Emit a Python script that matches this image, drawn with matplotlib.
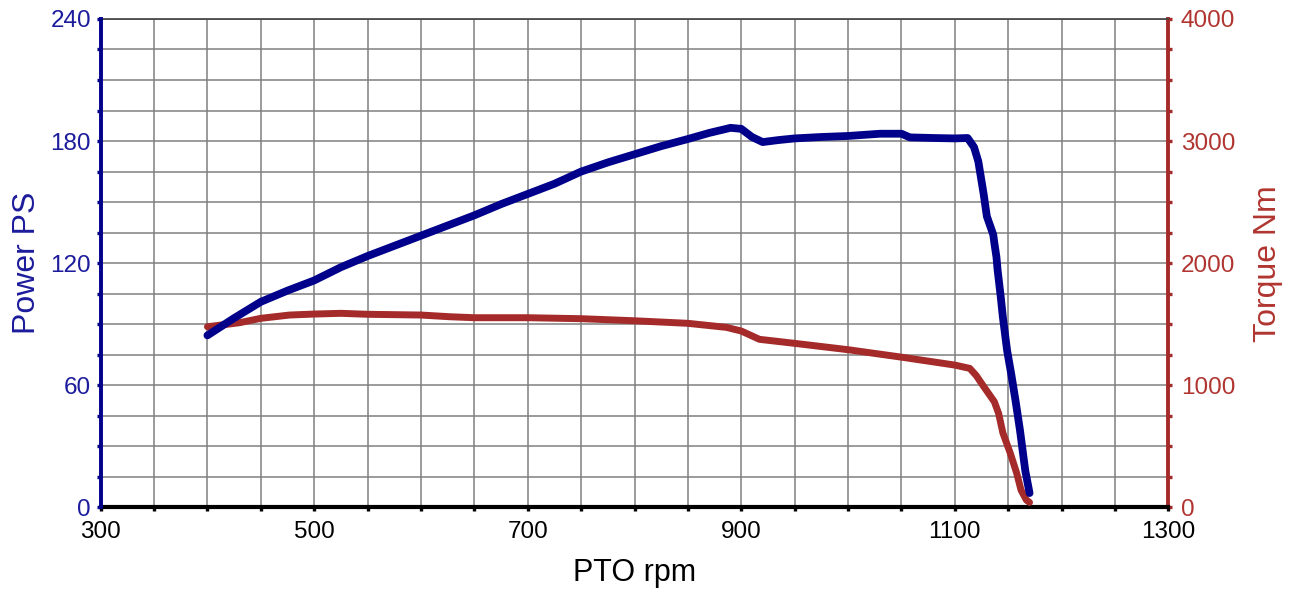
"""PTO dyno run: power and torque against PTO speed."""

import matplotlib.pyplot as plt
from matplotlib.ticker import MultipleLocator

# Power curve
RPM_POWER = [400, 425, 450, 475, 500, 525, 550, 575, 600, 625, 650, 675, 700,
             725, 750, 775, 800, 825, 850, 870, 890, 900, 910, 920, 935, 950,
             975, 1000, 1030, 1050, 1058, 1080, 1100, 1112, 1118, 1122, 1127,
             1130, 1134, 1136, 1137, 1139, 1140, 1143, 1145, 1149, 1153, 1157,
             1161, 1166, 1170]
POWER_PS = [84.5, 93, 101, 106.5, 111.5, 118, 123.5, 128.5, 133.5, 138.5,
            143.5, 149, 154, 159, 165, 169.5, 173.5, 177.5, 181, 184, 186.5,
            186, 182, 179.5, 180.5, 181.3, 182, 182.5, 183.6, 183.6, 181.8,
            181.5, 181.3, 181.5, 177, 170, 154, 143, 137, 134, 130, 123, 117,
            103.5, 93.5, 77, 65, 52, 38, 18, 7]

# Torque curve
RPM_TORQUE = [400, 430, 450, 477, 500, 525, 550, 600, 627, 650, 700, 750, 800,
              850, 886, 900, 917, 950, 1000, 1050, 1100, 1114, 1120, 1127,
              1133, 1137, 1141, 1145, 1152, 1158, 1162, 1167, 1170]
TORQUE_NM = [1479, 1512, 1548, 1575, 1583, 1589, 1581, 1575, 1561, 1553, 1553,
             1545, 1528, 1507, 1474, 1444, 1376, 1343, 1291, 1230, 1165, 1138,
             1080, 990, 915, 865, 770, 610, 442, 278, 142, 60, 40]

X_TICKS = [300, 500, 700, 900, 1100, 1300]

BLUE = "#00008b"
RED = "#a52a2a"
BLUE_TXT = "#1c1c9c"
RED_TXT = "#b03530"

plt.rcParams["font.family"] = ["Liberation Sans", "DejaVu Sans"]

fig = plt.figure(figsize=(12.89, 5.91), dpi=100)
# base axes: torque (right side) plus the grid; power axes on top of it
ax_t = fig.add_axes([0.0781, 0.1416, 0.8283, 0.8263])
ax_p = ax_t.twinx()

ax_t.plot(RPM_TORQUE, TORQUE_NM, color=RED, lw=5.0, solid_capstyle="round",
          solid_joinstyle="round", zorder=3)
ax_p.plot(RPM_POWER, POWER_PS, color=BLUE, lw=5.6, solid_capstyle="round",
          solid_joinstyle="round", zorder=3)

ax_t.set_xlim(300, 1300)
ax_t.set_ylim(0, 4000)
ax_p.set_ylim(0, 240)

ax_t.set_xticks(X_TICKS)
ax_t.xaxis.set_minor_locator(MultipleLocator(50))
ax_t.yaxis.set_major_locator(MultipleLocator(1000))
ax_t.yaxis.set_minor_locator(MultipleLocator(250))
ax_p.yaxis.set_major_locator(MultipleLocator(60))
ax_p.yaxis.set_minor_locator(MultipleLocator(15))

ax_t.yaxis.tick_right()
ax_t.yaxis.set_label_position("right")
ax_p.yaxis.tick_left()
ax_p.yaxis.set_label_position("left")

ax_t.grid(True, which="both", color="#808080", lw=1.1, zorder=0)
ax_t.set_axisbelow(True)

for side in ["left", "right", "top", "bottom"]:
    ax_p.spines[side].set_visible(side == "left")
ax_t.spines["left"].set_visible(False)
ax_p.spines["left"].set_color(BLUE)
ax_p.spines["left"].set_linewidth(2.8)
ax_t.spines["bottom"].set_color("black")
ax_t.spines["bottom"].set_linewidth(3)
ax_t.spines["top"].set_color("#404040")
ax_t.spines["top"].set_linewidth(1.2)
ax_t.spines["right"].set_color(RED)
ax_t.spines["right"].set_linewidth(2.8)

ax_t.tick_params(axis="x", which="both", direction="out", length=3, width=2.4,
                 color="black", labelsize=17.5, pad=7)
ax_t.tick_params(axis="y", which="both", direction="out", length=3, width=2.4,
                 color=RED, labelcolor=RED_TXT, labelsize=17.5, pad=6,
                 left=False, labelleft=False, right=True, labelright=True)
ax_p.tick_params(axis="y", which="both", direction="out", length=3, width=2.4,
                 color=BLUE, labelcolor=BLUE_TXT, labelsize=17.5, pad=4,
                 left=True, labelleft=True, right=False, labelright=False)

ax_t.set_xlabel("PTO rpm", fontsize=22, labelpad=11)
ax_p.set_ylabel("Power PS", fontsize=23, color=BLUE_TXT, labelpad=6)
ax_t.set_ylabel("Torque Nm", fontsize=23, color=RED_TXT, rotation=90,
                labelpad=13)

fig.savefig("out.png", dpi=100)
